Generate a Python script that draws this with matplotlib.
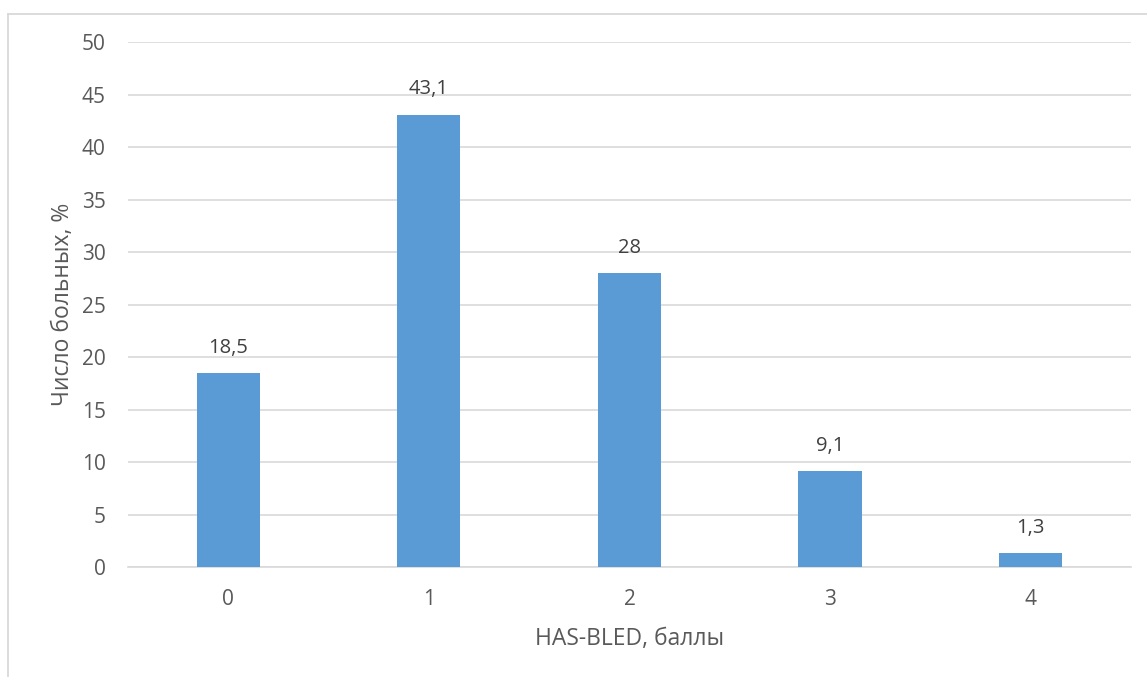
import matplotlib
matplotlib.use('Agg')
import matplotlib.pyplot as plt
from matplotlib.lines import Line2D

categories = ['0', '1', '2', '3', '4']
values = [18.5, 43.1, 28, 9.1, 1.3]
value_labels = ['18,5', '43,1', '28', '9,1', '1,3']
y_ticks = [0, 5, 10, 15, 20, 25, 30, 35, 40, 45, 50]

plt.rcParams['font.family'] = ['Open Sans', 'DejaVu Sans']
text_color = '#595959'
bar_color = '#5B9BD5'
grid_color = '#D9D9D9'

fig = plt.figure(figsize=(11.47, 6.77), dpi=100)
ax = fig.add_axes([0.1116, 0.1625, 0.8744, 0.775])

x = range(len(categories))
ax.bar(x, values, width=0.315, color=bar_color, zorder=3)
for xi, v, lab in zip(x, values, value_labels):
    ax.annotate(lab, (xi, v), xytext=(0, 11), textcoords='offset points',
                ha='center', va='bottom', fontsize=14.5, color='#404040')

ax.set_xlim(-0.5, len(categories) - 0.5)
ax.set_ylim(0, 50)
ax.set_yticks(y_ticks)
ax.set_xticks(list(x))
ax.set_xticklabels(categories)
ax.tick_params(axis='both', length=0, labelsize=15, colors=text_color)
ax.tick_params(axis='y', pad=16)
ax.tick_params(axis='x', pad=16)
ax.yaxis.grid(True, color=grid_color, linewidth=1.2, zorder=0)
for s in ['top', 'right', 'left']:
    ax.spines[s].set_visible(False)
ax.spines['bottom'].set_color(grid_color)
ax.spines['bottom'].set_linewidth(1.2)

ax.set_xlabel('HAS-BLED, баллы', fontsize=16.5, color=text_color, labelpad=12)
ax.set_ylabel('Число больных, %', fontsize=16.5, color=text_color, labelpad=5)

# outer chart frame (left and top edges visible)
fig.add_artist(Line2D([8 / 1147, 8 / 1147], [0, 1 - 13.5 / 677], transform=fig.transFigure,
                      color=grid_color, linewidth=1.3))
fig.add_artist(Line2D([8 / 1147, 1], [1 - 13.5 / 677, 1 - 13.5 / 677], transform=fig.transFigure,
                      color=grid_color, linewidth=1.3))

fig.savefig('out.png', dpi=100)
